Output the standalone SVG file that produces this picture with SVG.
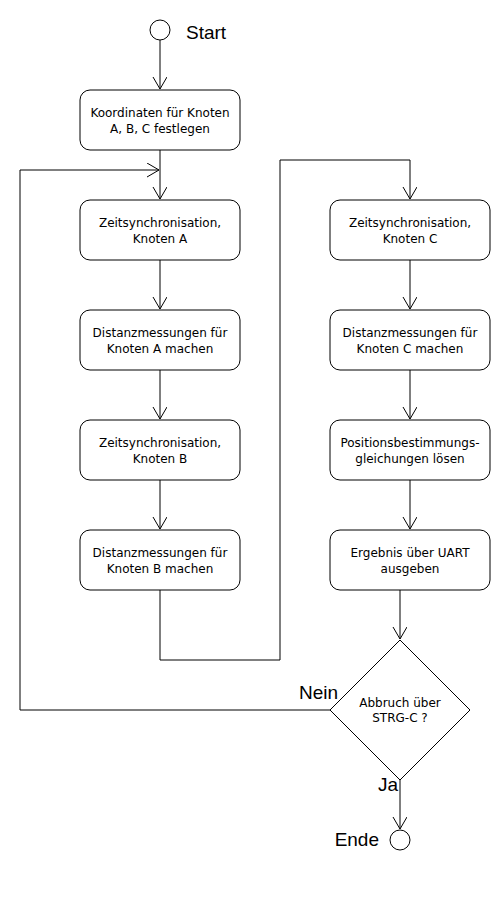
<svg xmlns="http://www.w3.org/2000/svg" width="500" height="900" viewBox="0 0 500 900">
<defs>
<marker id="arr" markerWidth="16" markerHeight="16" refX="12" refY="7" orient="auto" markerUnits="userSpaceOnUse">
<path d="M0,0 L12,7 L0,14" fill="none" stroke="#000" stroke-width="1"/>
</marker>
<style>
.box{fill:#fff;stroke:#000;stroke-width:1}
.t{font-family:"DejaVu Sans",sans-serif;font-size:12px;fill:#000;text-anchor:middle}
.lbl{font-family:"Liberation Sans",Arial,sans-serif;font-size:19px;fill:#000}
.c{fill:none;stroke:#000;stroke-width:1}
</style>
</defs>
<rect width="500" height="900" fill="#fff"/>
<g id="connectors">
<path class="c" d="M160,40 V89" marker-end="url(#arr)"/>
<path class="c" d="M160,150 V199" marker-end="url(#arr)"/>
<path class="c" d="M160,260 V309" marker-end="url(#arr)"/>
<path class="c" d="M160,370 V419" marker-end="url(#arr)"/>
<path class="c" d="M160,480 V529" marker-end="url(#arr)"/>
<path class="c" d="M160,590 V660 H280 V160 H410 V199" marker-end="url(#arr)"/>
<path class="c" d="M410,260 V309" marker-end="url(#arr)"/>
<path class="c" d="M410,370 V419" marker-end="url(#arr)"/>
<path class="c" d="M410,480 V529" marker-end="url(#arr)"/>
<path class="c" d="M400,590 V639" marker-end="url(#arr)"/>
<path class="c" d="M330,710 H20 V170 H159" marker-end="url(#arr)"/>
<path class="c" d="M400,780 V829" marker-end="url(#arr)"/>
</g>
<g id="start">
<circle cx="160" cy="30" r="10" fill="#fff" stroke="#000"/>
<text class="lbl" x="186" y="39">Start</text>
</g>
<g id="n1"><rect class="box" x="80" y="90" width="160" height="60" rx="10"/><text class="t" x="160" y="117">Koordinaten für Knoten</text><text class="t" x="160" y="133">A, B, C festlegen</text></g>
<g id="n2"><rect class="box" x="80" y="200" width="160" height="60" rx="10"/><text class="t" x="160" y="227">Zeitsynchronisation,</text><text class="t" x="160" y="243">Knoten A</text></g>
<g id="n3"><rect class="box" x="80" y="310" width="160" height="60" rx="10"/><text class="t" x="160" y="337">Distanzmessungen für</text><text class="t" x="160" y="353">Knoten A machen</text></g>
<g id="n4"><rect class="box" x="80" y="420" width="160" height="60" rx="10"/><text class="t" x="160" y="447">Zeitsynchronisation,</text><text class="t" x="160" y="463">Knoten B</text></g>
<g id="n5"><rect class="box" x="80" y="530" width="160" height="60" rx="10"/><text class="t" x="160" y="557">Distanzmessungen für</text><text class="t" x="160" y="573">Knoten B machen</text></g>
<g id="n6"><rect class="box" x="330" y="200" width="160" height="60" rx="10"/><text class="t" x="410" y="227">Zeitsynchronisation,</text><text class="t" x="410" y="243">Knoten C</text></g>
<g id="n7"><rect class="box" x="330" y="310" width="160" height="60" rx="10"/><text class="t" x="410" y="337">Distanzmessungen für</text><text class="t" x="410" y="353">Knoten C machen</text></g>
<g id="n8"><rect class="box" x="330" y="420" width="160" height="60" rx="10"/><text class="t" x="410" y="447">Positionsbestimmungs-</text><text class="t" x="410" y="463">gleichungen lösen</text></g>
<g id="n9"><rect class="box" x="330" y="530" width="160" height="60" rx="10"/><text class="t" x="410" y="557">Ergebnis über UART</text><text class="t" x="410" y="573">ausgeben</text></g>
<g id="decision">
<path class="box" d="M400,640 L470,710 L400,780 L330,710 Z"/>
<text class="t" x="400" y="707">Abbruch über</text>
<text class="t" x="400" y="722">STRG-C ?</text>
<text class="lbl" x="338" y="699" text-anchor="end">Nein</text>
<text class="lbl" x="398" y="791" text-anchor="end">Ja</text>
</g>
<g id="end">
<circle cx="400" cy="840" r="10" fill="#fff" stroke="#000"/>
<text class="lbl" x="379" y="846" text-anchor="end">Ende</text>
</g>
</svg>
